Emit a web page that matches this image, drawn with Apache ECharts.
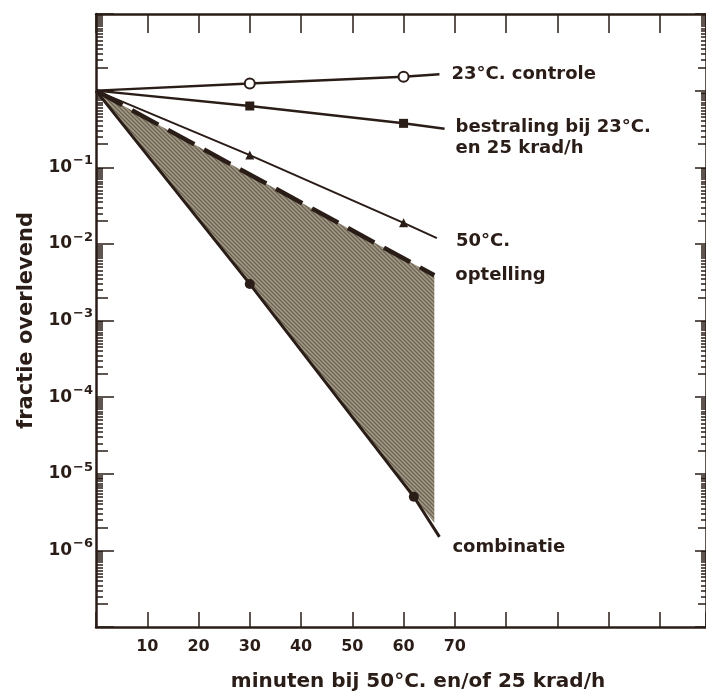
<!DOCTYPE html>
<html>
<head>
<meta charset="utf-8">
<script src="https://cdn.jsdelivr.net/npm/echarts@6/dist/echarts.min.js"></script>
<style>
html, body { margin: 0; padding: 0; background: #fff; }
#chart { width: 706px; height: 693px; }
</style>
</head>
<body>
<div id="chart"></div>
<script>
// minuten / fractie overlevend
const controleX = [0, 30, 60, 67];
const controleY = [1, 1.24, 1.52, 1.63];
const bestralingX = [0, 30, 60, 68];
const bestralingY = [1, 0.63, 0.374, 0.318];
const hitteX = [0, 30, 60, 66.5];
const hitteY = [1, 0.144, 0.0188, 0.0119];
const optellingX = [0, 66];
const optellingY = [1, 0.0039];
const combinatieX = [0, 30, 62, 67];
const combinatieY = [1, 0.003, 5e-6, 1.5e-6];
// onderrand van het gearceerde vlak
const arceringX = [0, 30, 62, 66];
const arceringY = [1, 0.003, 5e-6, 2.3e-6];

const xLabels = [10, 20, 30, 40, 50, 60, 70];
const yLabelExp = [-1, -2, -3, -4, -5, -6];

const ink = '#2a1d17';
const fam = 'DejaVu Sans';

function pairs(xs, ys) {
	return xs.map((x, i) => [x, ys[i]]);
}

// arcering van het vlak tussen optelling en combinatie
function hatch() {
	let c = document.createElement('canvas');
	c.width = 4; c.height = 4;
	let g = c.getContext('2d');
	g.fillStyle = '#a39a87';
	g.fillRect(0, 0, 4, 4);
	g.strokeStyle = '#6c6352';
	g.lineWidth = 1.3;
	g.beginPath();
	g.moveTo(-1, -1); g.lineTo(5, 5);
	g.moveTo(-1, 3); g.lineTo(1, 5);
	g.moveTo(3, -1); g.lineTo(5, 1);
	g.stroke();
	return c;
}
const hatchImg = hatch();

// tick posities (exponenten) voor de log-as
let majorTicks = [], twoTicks = [], smallTicks = [];
for (let e = -7; e <= 1; e++) {
	majorTicks.push(e);
	if (e < 1) {
		twoTicks.push(e + Math.log10(2));
		for (let k = 2.5; k <= 9.5; k += 0.5) smallTicks.push(e + Math.log10(k));
	}
}

function lineSeries(name, xs, ys, symbol, size, width, label, labelOpt) {
	let data = pairs(xs, ys).map((p, i) => {
		let item = { value: p };
		if (i === 0 || i === xs.length - 1) item.symbol = 'none';
		return item;
	});
	return {
		name: name,
		type: 'line',
		xAxisIndex: 0,
		yAxisIndex: 0,
		data: data,
		symbol: symbol,
		symbolSize: size,
		showSymbol: true,
		z: 5,
		lineStyle: { color: ink, width: width },
		itemStyle: symbol === 'emptyCircle'
			? { color: ink, borderColor: ink, borderWidth: 2.5 }
			: { color: ink },
		endLabel: Object.assign({
			show: true,
			formatter: label,
			color: ink,
			fontFamily: fam,
			fontWeight: 'bold',
			fontSize: 18,
			lineHeight: 21
		}, labelOpt),
		animation: false
	};
}

function tickAxis(pos, values, len) {
	return {
		type: 'value',
		position: pos,
		offset: 0,
		min: -7,
		max: 1,
		axisLine: { show: false, onZero: false },
		axisTick: { show: true, inside: true, length: len, customValues: values, lineStyle: { color: ink, width: 1.5 } },
		axisLabel: { show: false },
		splitLine: { show: false }
	};
}

let myChart = echarts.init(document.getElementById('chart'));

let option = {
	backgroundColor: '#fff',
	animation: false,
	grid: { left: 96, right: 0, top: 14, bottom: 66, containLabel: false, outerBoundsMode: 'none' },
	xAxis: [{
		type: 'value',
		position: 'bottom',
		min: 0,
		max: 119,
		interval: 10,
		name: 'minuten bij 50°C. en/of 25 krad/h',
		nameLocation: 'middle',
		nameGap: 45,
		nameTextStyle: { color: ink, fontFamily: fam, fontWeight: 'bold', fontSize: 20, padding: [0, 0, 0, 34] },
		axisLine: { show: true, onZero: false, lineStyle: { color: ink, width: 2.5 } },
		axisTick: { show: true, inside: true, length: 15, lineStyle: { color: ink, width: 1.5 } },
		axisLabel: {
			margin: 12,
			color: ink,
			fontFamily: fam,
			fontWeight: 'bold',
			fontSize: 16,
			formatter: v => xLabels.indexOf(v) >= 0 ? String(v) : ''
		},
		splitLine: { show: false }
	}, {
		type: 'value',
		position: 'top',
		min: 0,
		max: 119,
		interval: 10,
		axisLine: { show: true, onZero: false, lineStyle: { color: ink, width: 2.5 } },
		axisTick: { show: true, inside: true, length: 19, lineStyle: { color: ink, width: 1.5 } },
		axisLabel: { show: false },
		splitLine: { show: false }
	}],
	yAxis: [{
		type: 'log',
		logBase: 10,
		min: 1e-7,
		max: 10,
		position: 'left',
		name: 'fractie overlevend',
		nameLocation: 'middle',
		nameRotate: 90,
		nameGap: 59,
		nameTextStyle: { color: ink, fontFamily: fam, fontWeight: 'bold', fontSize: 21 },
		axisLine: { show: true, onZero: false, lineStyle: { color: ink, width: 2.5 } },
		axisTick: { show: false },
		axisLabel: { show: false },
		splitLine: { show: false }
	},
	Object.assign(tickAxis('left', majorTicks, 18), {
		axisLabel: {
			show: true,
			margin: 3,
			customValues: yLabelExp,
			formatter: v => '{b|10}{s|−' + Math.abs(Math.round(v)) + '}',
			rich: {
				b: { color: ink, fontFamily: fam, fontWeight: 'bold', fontSize: 17 },
				s: { color: ink, fontFamily: fam, fontWeight: 'bold', fontSize: 13, padding: [0, 0, 13, 1] }
			}
		}
	}),
	tickAxis('left', twoTicks, 12),
	tickAxis('left', smallTicks, 7),
	Object.assign(tickAxis('right', majorTicks, 11), {
		axisLine: { show: true, onZero: false, lineStyle: { color: ink, width: 2.5 } }
	}),
	tickAxis('right', twoTicks, 8),
	tickAxis('right', smallTicks, 5)
	],
	series: [{
		type: 'custom',
		xAxisIndex: 0,
		yAxisIndex: 0,
		silent: true,
		z: 1,
		data: [[0, 1]],
		renderItem: function (params, api) {
			let top = pairs(optellingX, optellingY);
			let bottom = pairs(arceringX, arceringY).reverse();
			let pts = top.concat(bottom).map(p => api.coord(p));
			return {
				type: 'polygon',
				shape: { points: pts },
				style: { fill: { image: hatchImg, repeat: 'repeat' }, stroke: null }
			};
		}
	},
	lineSeries('controle', controleX, controleY, 'emptyCircle', 10, 2.5, '23°C. controle', { distance: 12 }),
	lineSeries('bestraling', bestralingX, bestralingY, 'rect', 9, 2.5, 'bestraling bij 23°C.\nen 25 krad/h', { distance: 11, offset: [0, 9] }),
	lineSeries('hitte', hitteX, hitteY, 'triangle', 9, 2, '50°C.', { distance: 19, offset: [0, 3] }),
	Object.assign(lineSeries('optelling', optellingX, optellingY, 'none', 0, 4, 'optelling', { distance: 21 }), {
		lineStyle: { color: ink, width: 4.5, type: [30, 11] }
	}),
	lineSeries('combinatie', combinatieX, combinatieY, 'circle', 10, 3, 'combinatie', { distance: 13, offset: [0, 10] })
	]
};

myChart.setOption(option);
</script>
</body>
</html>
